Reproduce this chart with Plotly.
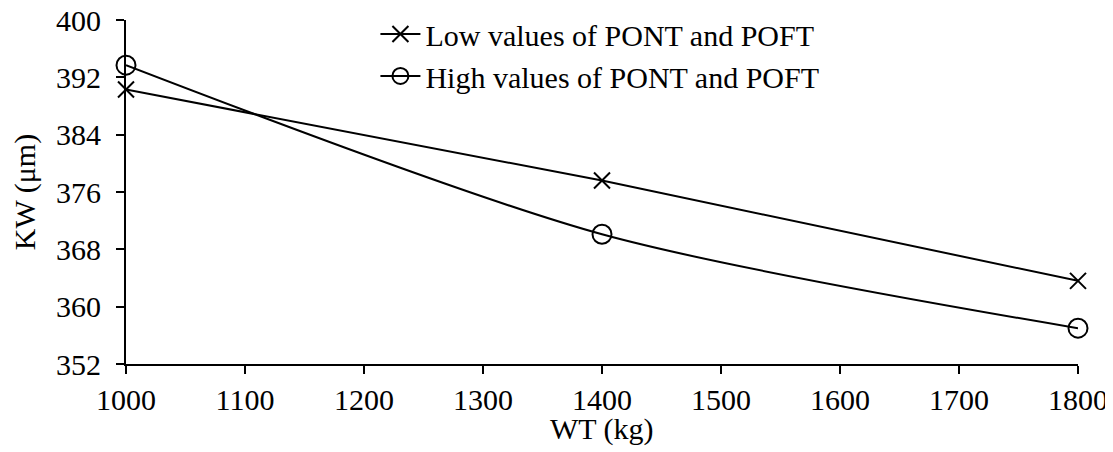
import plotly.graph_objects as go

wt = [1000, 1400, 1800]
low_kw = [390.3, 377.6, 363.6]
high_kw = [393.7, 370.1, 357.0]
x_ticks = [1000, 1100, 1200, 1300, 1400, 1500, 1600, 1700, 1800]
y_ticks = [352, 360, 368, 376, 384, 392, 400]

font_family = "Liberation Serif"

fig = go.Figure()
fig.add_trace(go.Scatter(
    x=wt, y=low_kw, mode="lines+markers", name="Low values of PONT and POFT",
    line=dict(color="black", width=2),
    marker=dict(symbol="x-thin-open", size=16, color="black", line=dict(color="black", width=2)),
    cliponaxis=False,
))
fig.add_trace(go.Scatter(
    x=wt, y=high_kw, mode="lines+markers", name="High values of PONT and POFT",
    line=dict(color="black", width=2, shape="spline", smoothing=0.8),
    marker=dict(symbol="circle-open", size=19, color="black", line=dict(color="black", width=2)),
    cliponaxis=False,
))

fig.update_layout(
    width=1113, height=452,
    margin=dict(l=118, r=43, t=12, b=96, autoexpand=False),
    paper_bgcolor="white", plot_bgcolor="white",
    font=dict(family=font_family, size=30, color="black"),
    showlegend=True,
    legend=dict(
        x=0.262, y=1.035, xanchor="left", yanchor="top",
        font=dict(family=font_family, size=30, color="black"),
        bgcolor="rgba(0,0,0,0)", tracegroupgap=0, itemwidth=40,
    ),
    xaxis=dict(
        range=[1000, 1800], tickvals=x_ticks, showgrid=False, zeroline=False,
        showline=True, linecolor="black", linewidth=2, automargin=False,
        ticks="outside", ticklen=8, tickwidth=2, tickcolor="black",
        ticklabeloverflow="allow",
        tickfont=dict(family=font_family, size=30),
    ),
    yaxis=dict(
        range=[352, 400], tickvals=y_ticks, showgrid=False, zeroline=False,
        showline=True, linecolor="black", linewidth=2, automargin=False,
        ticks="outside", ticklen=8, tickwidth=2, tickcolor="black",
        ticklabelstandoff=9, ticklabeloverflow="allow",
        tickfont=dict(family=font_family, size=30),
        title=dict(text="KW (μm)", font=dict(family=font_family, size=30), standoff=12),
    ),
    annotations=[dict(
        text="WT (kg)", xref="paper", yref="paper", x=0.5, y=-0.19,
        xanchor="center", yanchor="middle", showarrow=False,
        font=dict(family=font_family, size=30, color="black"),
    )],
)

fig.write_html("out.html")
